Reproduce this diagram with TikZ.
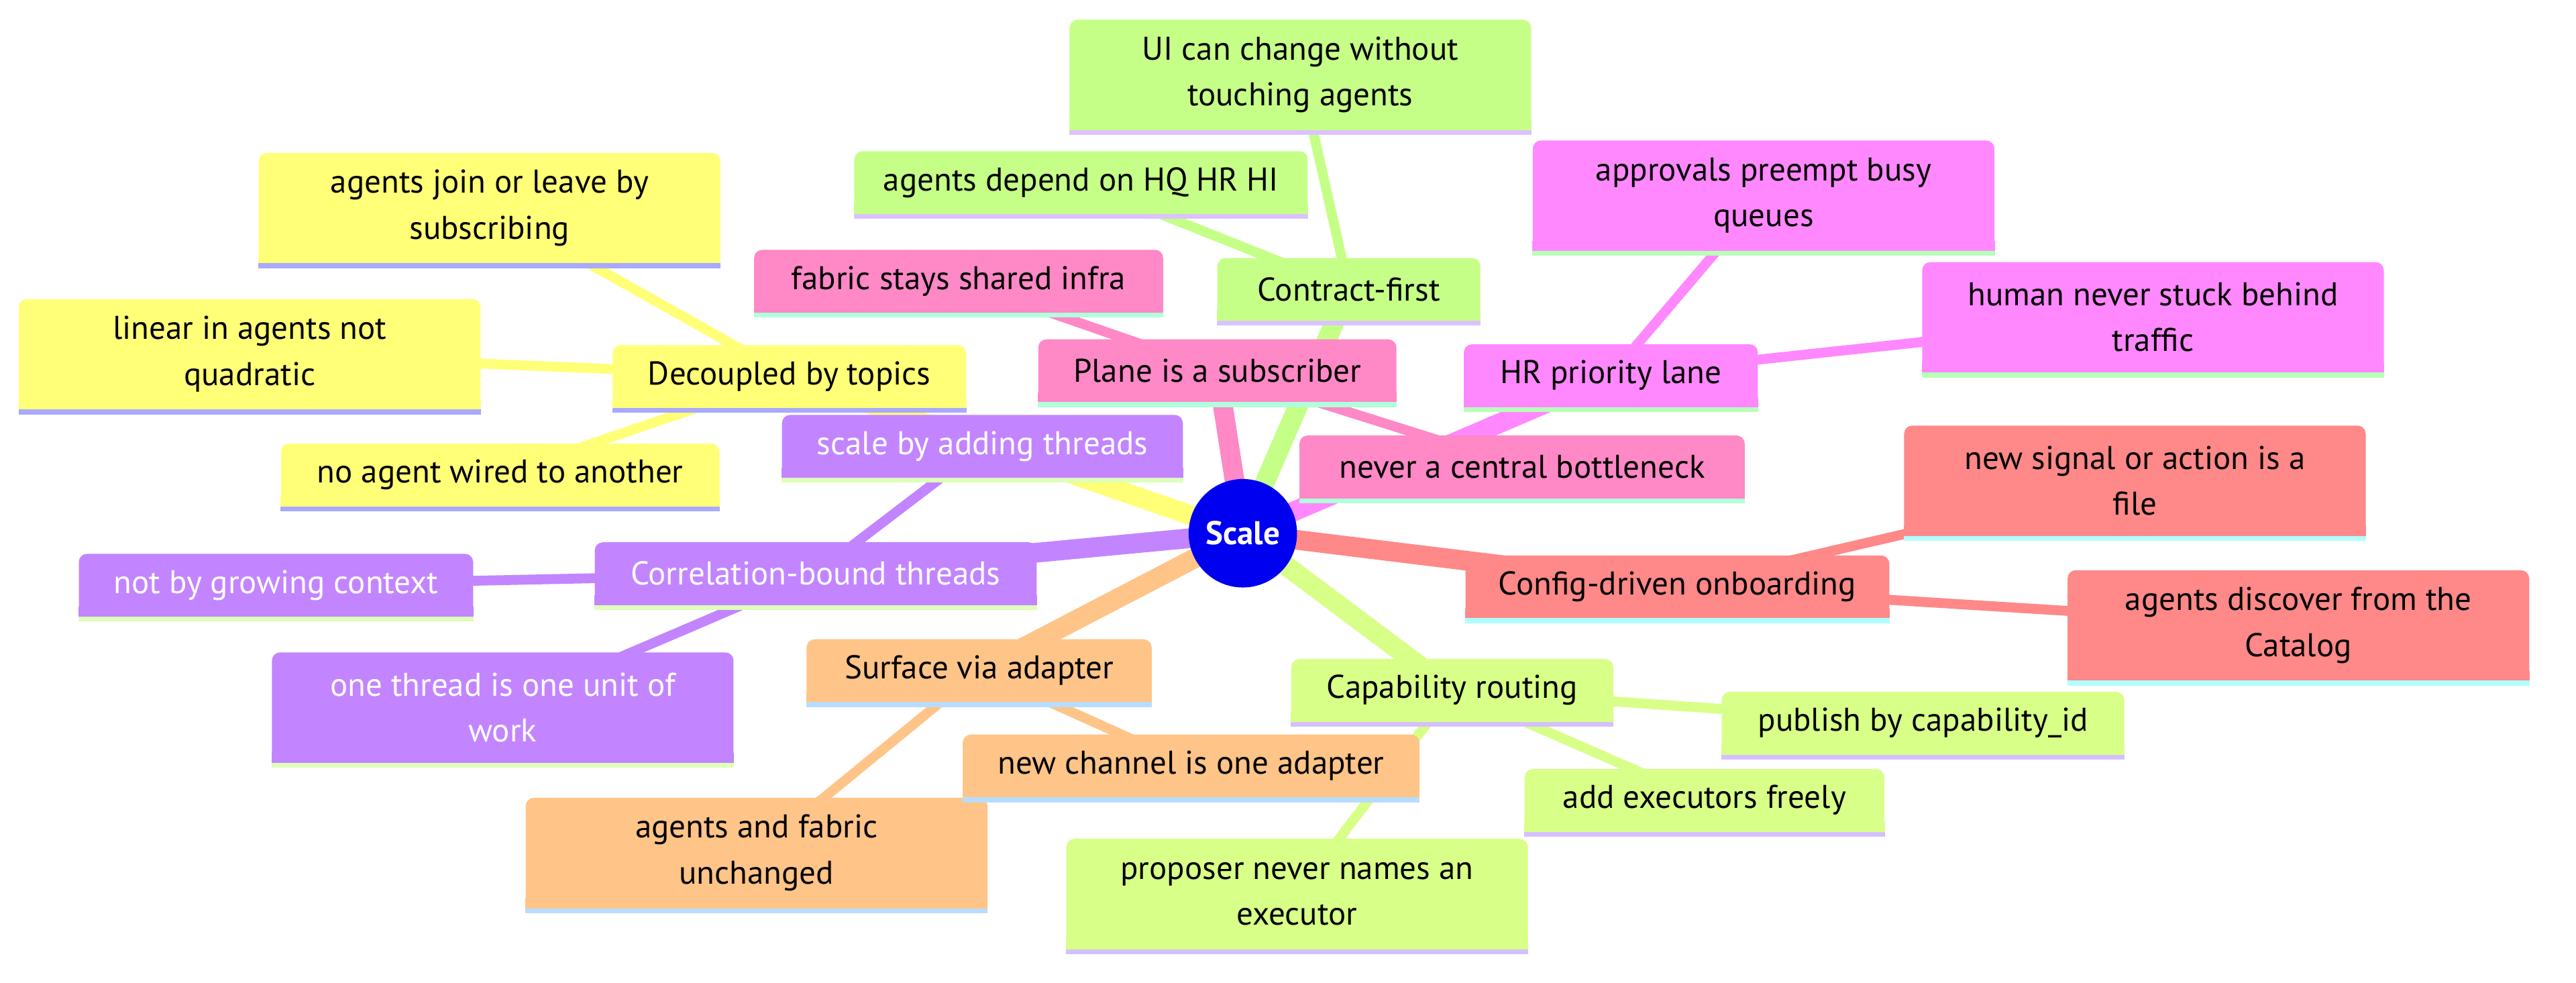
\documentclass[tikz,border=0pt]{standalone}
\usepackage{fontspec}
\setmainfont{PT Sans}
\usetikzlibrary{backgrounds}
\definecolor{decfill}{HTML}{FFFF78}\definecolor{decbar}{HTML}{A9A9FF}
\definecolor{confill}{HTML}{C6FF88}\definecolor{conbar}{HTML}{DCC2FF}
\definecolor{plafill}{HTML}{FF88C6}\definecolor{plabar}{HTML}{B0FFDB}
\definecolor{hrlfill}{HTML}{FF88FF}\definecolor{hrlbar}{HTML}{B8FFB8}
\definecolor{cfgfill}{HTML}{FF8888}\definecolor{cfgbar}{HTML}{B0FFFF}
\definecolor{capfill}{HTML}{D8FF88}\definecolor{capbar}{HTML}{D4C0FF}
\definecolor{surfill}{HTML}{FFC488}\definecolor{surbar}{HTML}{B8DCFF}
\definecolor{corfill}{HTML}{C285FF}\definecolor{corbar}{HTML}{DDFFB8}
\definecolor{rootfill}{HTML}{0000F0}
\tikzset{
  idea/.style={rectangle,rounded corners=5,inner sep=0,minimum height=38,font=\fontsize{20}{28}\selectfont},
  note/.style={idea,minimum width=281,minimum height=67,align=center},
  trunk/.style={line width=12},
  twig/.style={line width=6}
}
\begin{document}
\begin{tikzpicture}[x=1pt,y=-1pt]
\useasboundingbox (0,0) rectangle (1568,598);
\node[circle,fill=rootfill,minimum size=66,inner sep=0,text=white,font=\fontsize{20}{24}\selectfont\bfseries] (root) at (756.5,324.5) {Scale};
\node[idea,fill=decfill,minimum width=215] (dec) at (480.5,229) {Decoupled by topics};
\node[note,fill=decfill] (decA) at (298,126.5) {agents join or leave by\\subscribing};
\node[note,fill=decfill] (decB) at (152,215.5) {linear in agents not\\quadratic};
\node[idea,fill=decfill,minimum width=267] (decC) at (304.5,289) {no agent wired to another};
\node[idea,fill=confill,minimum width=160] (con) at (821,176) {Contract-first};
\node[note,fill=confill] (conA) at (791.5,45.5) {UI can change without\\touching agents};
\node[idea,fill=confill,minimum width=276] (conB) at (658,111) {agents depend on HQ HR HI};
\node[idea,fill=plafill,minimum width=218] (pla) at (741,225.5) {Plane is a subscriber};
\node[idea,fill=plafill,minimum width=249] (plaA) at (583.5,171) {fabric stays shared infra};
\node[idea,fill=plafill,minimum width=271] (plaB) at (926.5,284) {never a central bottleneck};
\node[idea,fill=hrlfill,minimum width=179] (hrl) at (980.5,228.5) {HR priority lane};
\node[note,fill=hrlfill] (hrlA) at (1073.5,119) {approvals preempt busy\\queues};
\node[note,fill=hrlfill] (hrlB) at (1310.5,193) {human never stuck behind\\traffic};
\node[idea,fill=cfgfill,minimum width=258] (cfg) at (1021,357) {Config-driven onboarding};
\node[note,fill=cfgfill] (cfgA) at (1299.5,292.5) {new signal or action is a\\file};
\node[note,fill=cfgfill] (cfgB) at (1399,380.5) {agents discover from the\\Catalog};
\node[idea,fill=capfill,minimum width=196] (cap) at (884,420) {Capability routing};
\node[idea,fill=capfill,minimum width=245] (capA) at (1170.5,440) {publish by capability\_id};
\node[idea,fill=capfill,minimum width=219] (capB) at (1037.5,487) {add executors freely};
\node[note,fill=capfill] (capC) at (789.5,544) {proposer never names an\\executor};
\node[idea,fill=surfill,minimum width=210] (sur) at (596,408) {Surface via adapter};
\node[idea,fill=surfill,minimum width=278] (surA) at (725,466) {new channel is one adapter};
\node[note,fill=surfill] (surB) at (460.5,519) {agents and fabric\\unchanged};
\node[idea,fill=corfill,minimum width=269,text=white] (cor) at (496.5,349) {Correlation-bound threads};
\node[idea,fill=corfill,minimum width=244,text=white] (corA) at (598,271.5) {scale by adding threads};
\node[idea,fill=corfill,minimum width=240,text=white] (corB) at (168,356) {not by growing context};
\node[note,fill=corfill,text=white] (corC) at (306,430.5) {one thread is one unit of\\work};
\begin{scope}[on background layer]
\fill[white] (0,0) rectangle (1568,598);
\foreach \br/\cl in {dec/decfill,con/confill,pla/plafill,hrl/hrlfill,cfg/cfgfill,cap/capfill,sur/surfill,cor/corfill}
\draw[trunk,draw=\cl] (root.center) -- (\br.center);
\foreach \br/\lf/\cl in {dec/decA/decfill,dec/decB/decfill,dec/decC/decfill,con/conA/confill,con/conB/confill,pla/plaA/plafill,pla/plaB/plafill,hrl/hrlA/hrlfill,hrl/hrlB/hrlfill,cfg/cfgA/cfgfill,cfg/cfgB/cfgfill,cap/capA/capfill,cap/capB/capfill,cap/capC/capfill,sur/surA/surfill,sur/surB/surfill,cor/corA/corfill,cor/corB/corfill,cor/corC/corfill}
\draw[twig,draw=\cl] (\br.center) -- (\lf.center);
\end{scope}
\foreach \nd/\cl in {dec/dec,decA/dec,decB/dec,decC/dec,con/con,conA/con,conB/con,pla/pla,plaA/pla,plaB/pla,hrl/hrl,hrlA/hrl,hrlB/hrl,cfg/cfg,cfgA/cfg,cfgB/cfg,cap/cap,capA/cap,capB/cap,capC/cap,sur/sur,surA/sur,surB/sur,cor/cor,corA/cor,corB/cor,corC/cor}{
\fill[fill=\cl fill] ([yshift=6pt]\nd.south west) rectangle (\nd.south east);
\fill[fill=\cl bar] (\nd.south west) rectangle ([yshift=-3pt]\nd.south east);
}
\end{tikzpicture}
\end{document}
